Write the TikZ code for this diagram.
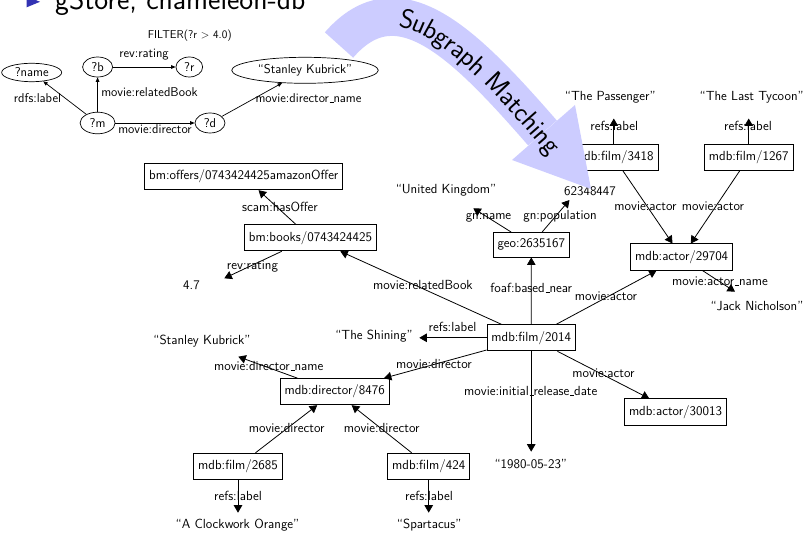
\documentclass[tikz,border=0pt]{standalone}
\usetikzlibrary{arrows.meta,decorations.text,shapes.geometric}
\definecolor{bandblue}{RGB}{204,204,255}
\definecolor{bulletblue}{RGB}{51,51,179}
\newcommand\bandfont{\fontsize{27}{32}\selectfont}
\newcommand\uscore{\leavevmode\kern.06em\vbox{\hrule width.3em}}

\begin{document}
\begin{tikzpicture}[x=1pt,y=-1pt,
  font=\sffamily\fontsize{13.2}{15.5}\selectfont,
  qfont/.style={font=\sffamily\fontsize{12.8}{15}\selectfont},
  res/.style={draw,line width=0.8pt,inner xsep=4.5pt,inner ysep=6.5pt},
  lbl/.style={inner sep=0pt,text height=0.72em,text depth=0.22em},
  rel/.style={line width=0.8pt,-{Triangle[length=7.5pt,width=8.5pt]}},
  var/.style={draw,ellipse,line width=0.7pt,inner sep=0pt,qfont},
  qlbl/.style={lbl,qfont},
  qrel/.style={line width=0.7pt,-{Triangle[length=4.5pt,width=3.6pt]}},
]
\useasboundingbox (0,0) rectangle (804,534);
\clip (0,0) rectangle (804,534);

% heading line of the slide
\fill[bulletblue] (26.7,-3.7) -- (40,1.8) -- (26.7,7.3) -- cycle;
\node[anchor=base west,inner sep=0pt,font=\sffamily\fontsize{29.5}{34}\selectfont] (title) at (55,10) {gStore, chameleon-db};

% ---------- query graph ----------
\node[var,minimum width=60pt,minimum height=18.4pt] (qname) at (31.7,72.5) {?name};
\node[var,minimum width=30pt,minimum height=20pt] (qb) at (97.6,67) {?b};
\node[var,minimum width=26.7pt,minimum height=20pt] (qr) at (189.3,67) {?r};
\node[var,minimum width=35pt,minimum height=21.6pt] (qm) at (97.6,123) {?m};
\node[var,minimum width=30pt,minimum height=20pt] (qd) at (210,123) {?d};
\node[var,minimum width=146.6pt,minimum height=26pt] (qk) at (305,70.3) {“Stanley Kubrick”};

\draw[qrel] (qb) -- (qr);
\draw[qrel] (qm) -- (qb);
\draw[qrel] (qm) -- (qname);
\draw[qrel] (qm) -- (qd);
\draw[qrel] (qd) -- (qk);

\node[lbl,font=\sffamily\fontsize{11.4}{13}\selectfont] (qfilter) at (189.8,36) {FILTER(?r $>$ 4.0)};
\node[qlbl] (ql1) at (144,55) {rev:rating};
\node[qlbl] (ql2) at (37.5,100) {rdfs:label};
\node[qlbl] (ql3) at (149.5,94.3) {movie:relatedBook};
\node[qlbl] (ql4) at (155,131) {movie:director};
\node[qlbl] (ql5) at (308.5,100) {movie:director\uscore name};

% ---------- data graph: resources ----------
\node[res] (offer) at (243.8,176.7) {bm:offers/0743424425amazonOffer};
\node[res] (book) at (310.5,237.8) {bm:books/0743424425};
\node[res] (geo) at (531.3,244.7) {geo:2635167};
\node[res] (f3418) at (613.8,157.5) {mdb:film/3418};
\node[res] (f1267) at (748.7,157.5) {mdb:film/1267};
\node[res] (a29704) at (681.7,257) {mdb:actor/29704};
\node[res] (f2014) at (531.2,337.8) {mdb:film/2014};
\node[res] (d8476) at (334.7,391.7) {mdb:director/8476};
\node[res] (a30013) at (675.5,412) {mdb:actor/30013};
\node[res] (f2685) at (238,466.3) {mdb:film/2685};
\node[res] (f424) at (428.7,466.3) {mdb:film/424};

% ---------- data graph: literals ----------
\node[lbl] (passenger) at (610.3,98.3) {“The Passenger”};
\node[lbl] (tycoon) at (751.7,98.3) {“The Last Tycoon”};
\node[lbl] (uk) at (446,191.5) {“United Kingdom”};
\node[lbl] (pop) at (590,193) {62348447};
\node[lbl] (rating) at (191.5,287.5) {4.7};
\node[lbl] (jack) at (757,308.3) {“Jack Nicholson”};
\node[lbl] (shining) at (374,337) {“The Shining”};
\node[lbl] (kubrick) at (202,341.7) {“Stanley Kubrick”};
\node[lbl] (date) at (530.8,465.7) {“1980-05-23”};
\node[lbl] (orange) at (237.5,526) {“A Clockwork Orange”};
\node[lbl] (spartacus) at (429.2,526) {“Spartacus”};

% arrow ends in front of the literals
\coordinate (tPass) at (613.8,118.5);
\coordinate (tTyc) at (748.7,118.5);
\coordinate (tUK) at (473.3,208.3);
\coordinate (tPop) at (569.5,200);
\coordinate (tRat) at (224.3,278.3);
\coordinate (tJack) at (735,291.7);
\coordinate (tShin) at (419.3,337.8);
\coordinate (tKub) at (238.3,356.7);
\coordinate (tDate) at (531.2,451.7);
\coordinate (tOra) at (238,512.7);
\coordinate (tSpa) at (428.7,512.7);

% ---------- data graph: edges ----------
\draw[rel] (book) -- (offer);
\draw[rel] (book) -- (tRat);
\draw[rel] (f2014) -- (book);
\draw[rel] (geo) -- (tUK);
\draw[rel] (geo) -- (tPop);
\draw[rel] (f2014) -- (geo);
\draw[rel] (f2014) -- (a29704);
\draw[rel] (f3418) -- (a29704);
\draw[rel] (f1267) -- (a29704);
\draw[rel] (f3418) -- (tPass);
\draw[rel] (f1267) -- (tTyc);
\draw[rel] (a29704) -- (tJack);
\draw[rel] (f2014) -- (tShin);
\draw[rel] (f2014) -- (d8476);
\draw[rel] (f2014) -- (tDate);
\draw[rel] (f2014) -- (a30013);
\draw[rel] (d8476) -- (tKub);
\draw[rel] (f2685) -- (d8476);
\draw[rel] (f424) -- (d8476);
\draw[rel] (f2685) -- (tOra);
\draw[rel] (f424) -- (tSpa);

% ---------- data graph: edge labels ----------
\node[lbl] (e1) at (614.3,128.3) {refs:label};
\node[lbl] (e2) at (748,128.3) {refs:label};
\node[lbl] (e3) at (645.5,208.3) {movie:actor};
\node[lbl] (e4) at (713,208.3) {movie:actor};
\node[lbl] (e5) at (488.5,216.7) {gn:name};
\node[lbl] (e6) at (560,216.7) {gn:population};
\node[lbl] (e7) at (720,283.3) {movie:actor\uscore name};
\node[lbl] (e8) at (606,298.3) {movie:actor};
\node[lbl] (e9) at (531.3,290) {foaf:based\uscore near};
\node[lbl] (e10) at (423,287.3) {movie:relatedBook};
\node[lbl] (e11) at (280,209.3) {scam:hasOffer};
\node[lbl] (e12) at (252.5,266.7) {rev:rating};
\node[lbl] (e13) at (452.5,329.3) {refs:label};
\node[lbl] (e14) at (434,366) {movie:director};
\node[lbl] (e15) at (268.7,368.3) {movie:director\uscore name};
\node[lbl] (e16) at (286.7,430) {movie:director};
\node[lbl] (e17) at (381.7,430) {movie:director};
\node[lbl] (e18) at (238,498.3) {refs:label};
\node[lbl] (e19) at (429,498.3) {refs:label};
\node[lbl] (e20) at (530.8,392.7) {movie:initial\uscore release\uscore date};
\node[lbl] (e21) at (603.5,375) {movie:actor};

% ---------- curved "Subgraph Matching" arrow ----------
\coordinate (bs) at (339,45);
\coordinate (bc1) at (398,-23);
\coordinate (bc2) at (463.7,42.6);
\coordinate (be) at (542.5,133);
\coordinate (hl) at (512,160);
\coordinate (ht) at (591,189);
\coordinate (hr) at (575,105);
\draw[bandblue,line width=38pt] (bs) .. controls (bc1) and (bc2) .. (be);
\fill[bandblue] (hl) -- (ht) -- (hr) -- cycle;
\path[decorate,decoration={text along path,
    text={|\sffamily\bandfont|Subgraph Matching},
    text align={left indent=71pt},raise=-10pt}]
  (bs) .. controls (bc1) and (bc2) .. (be) -- (ht);
\end{tikzpicture}
\end{document}
